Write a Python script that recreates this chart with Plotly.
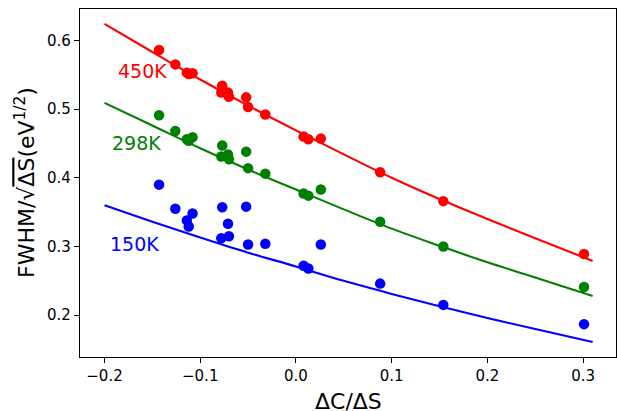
import plotly.graph_objects as go

# Measured points (ΔC/ΔS)
x_pts = [-0.143, -0.126, -0.114, -0.112, -0.108, -0.078, -0.077, -0.071, -0.070,
         -0.052, -0.050, -0.032, 0.008, 0.013, 0.026, 0.088, 0.154, 0.301]
y_450 = [0.586, 0.565, 0.553, 0.551, 0.552, 0.524, 0.534, 0.524, 0.518,
         0.517, 0.503, 0.492, 0.460, 0.456, 0.457, 0.408, 0.366, 0.289]
y_298 = [0.491, 0.468, 0.456, 0.454, 0.459, 0.431, 0.447, 0.434, 0.427,
         0.438, 0.414, 0.406, 0.377, 0.374, 0.383, 0.336, 0.300, 0.241]
y_150 = [0.390, 0.355, 0.338, 0.329, 0.348, 0.312, 0.357, 0.333, 0.315,
         0.358, 0.303, 0.304, 0.272, 0.268, 0.303, 0.246, 0.215, 0.187]

# Fit curves
x_fit = [-0.20, -0.15, -0.10, -0.05, 0.00, 0.05, 0.10, 0.15, 0.20, 0.25, 0.31]
fit_450 = [0.624, 0.583, 0.543, 0.505, 0.469, 0.434, 0.400, 0.369, 0.340, 0.312, 0.279]
fit_298 = [0.509, 0.476, 0.443, 0.412, 0.383, 0.354, 0.326, 0.301, 0.277, 0.255, 0.228]
fit_150 = [0.360, 0.336, 0.313, 0.291, 0.271, 0.250, 0.231, 0.213, 0.196, 0.180, 0.161]

labels = ["450K", "298K", "150K"]
label_x = [-0.188, -0.194, -0.196]
label_y = [0.556, 0.450, 0.303]
colors = ["#ff0000", "#008000", "#0000ff"]

x_ticks = [-0.2, -0.1, 0.0, 0.1, 0.2, 0.3]
x_ticklabels = ["\u22120.2", "\u22120.1", "0.0", "0.1", "0.2", "0.3"]
y_ticks = [0.2, 0.3, 0.4, 0.5, 0.6]
y_ticklabels = ["0.2", "0.3", "0.4", "0.5", "0.6"]

FONT = "DejaVu Sans"

fig = go.Figure()
for fy, py, c in zip([fit_450, fit_298, fit_150], [y_450, y_298, y_150], colors):
    fig.add_trace(go.Scatter(x=x_fit, y=fy, mode="lines", line=dict(color=c, width=2.1, shape="spline"),
                             showlegend=False, hoverinfo="skip"))
    fig.add_trace(go.Scatter(x=x_pts, y=py, mode="markers", marker=dict(color=c, size=10.5, line=dict(width=0)),
                             showlegend=False))

annotations = []
for t, lx, ly, c in zip(labels, label_x, label_y, colors):
    annotations.append(dict(x=lx, y=ly, xref="x", yref="y", text=t, showarrow=False,
                            xanchor="left", yanchor="middle", font=dict(family=FONT, size=19, color=c)))

annotations.append(dict(x=0.5, y=0, xref="paper", yref="paper", text="\u0394C/\u0394S", showarrow=False,
                        xanchor="center", yanchor="middle", yshift=-44,
                        font=dict(family=FONT, size=22, color="black")))
annotations.append(dict(x=0, y=0.5, xref="paper", yref="paper",
                        text="FWHM/\u221a<span style='text-decoration:overline'>\u0394S</span>(eV<sup>1/2</sup>)",
                        showarrow=False, textangle=-90, xanchor="center", yanchor="middle", xshift=-55,
                        font=dict(family=FONT, size=22, color="black")))

axis_common = dict(showgrid=False, zeroline=False, showline=True, mirror=True, linecolor="black",
                   linewidth=1.2, ticks="outside", ticklen=5, tickwidth=1.1, tickcolor="black",
                   tickfont=dict(family=FONT, size=15, color="black"))

fig.update_layout(
    width=617, height=411,
    margin=dict(l=80, r=1, t=9, b=54),
    paper_bgcolor="white", plot_bgcolor="white",
    xaxis=dict(range=[-0.2256, 0.3344], tickvals=x_ticks, ticktext=x_ticklabels, **axis_common),
    yaxis=dict(range=[0.1392, 0.6456], tickvals=y_ticks, ticktext=y_ticklabels, **axis_common),
    annotations=annotations,
    showlegend=False,
)

fig.write_html("out.html", config={"displayModeBar": False},
               post_script="document.body.style.margin='0px';document.body.style.overflow='hidden';")
